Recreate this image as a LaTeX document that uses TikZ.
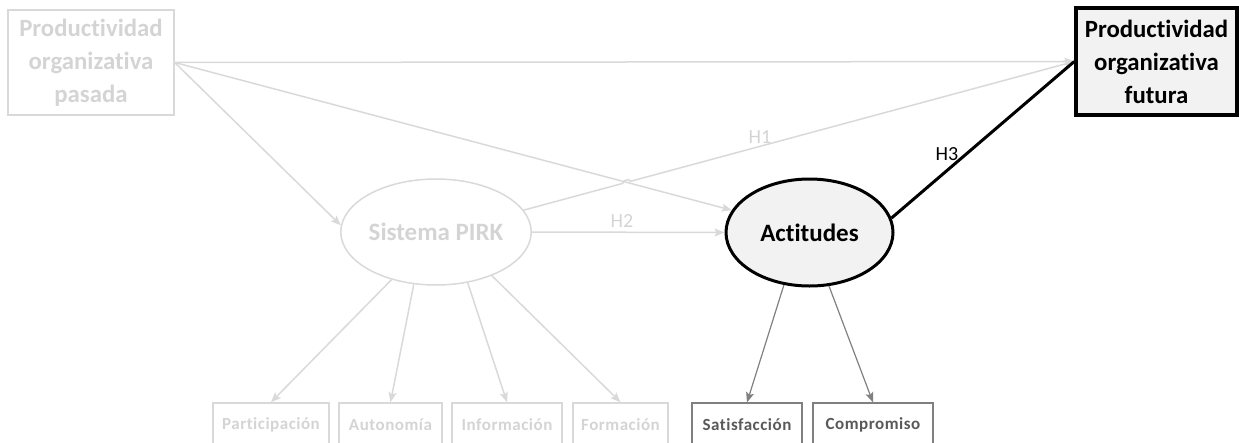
\documentclass[tikz,border=0pt]{standalone}
\usepackage{fontspec}
\setmainfont{Carlito}[RawFeature={-liga}]
\newfontfamily\trackedfont{Carlito}[LetterSpace=3,RawFeature={-liga}]
\usetikzlibrary{arrows.meta,shapes.geometric,intersections,calc}
\definecolor{faint}{HTML}{D9D9D9}
\definecolor{faintext}{HTML}{D4D4D4}
\definecolor{mid}{HTML}{808080}
\definecolor{midtext}{HTML}{595959}
\definecolor{fillgray}{HTML}{F2F2F2}
\begin{document}
\begin{tikzpicture}[x=1pt,y=-1pt,
  tip/.style={-{Stealth[length=10pt,width=8pt,inset=2pt]}},
  fline/.style={draw=faint,line width=1.5pt,tip},
  mline/.style={draw=mid,line width=1.2pt,tip},
  bigbox/.style={draw=faint,line width=1.5pt,inner sep=0pt,align=center,
    font=\fontsize{24.8}{33}\selectfont\bfseries,text=faintext},
  mainbox/.style={draw=black,line width=3.5pt,fill=fillgray,inner sep=0pt,align=center,
    font=\fontsize{24.8}{33}\selectfont\bfseries},
  fellipse/.style={ellipse,draw=faint,line width=1.5pt,inner sep=0pt,
    font=\fontsize{25}{28}\selectfont\bfseries,text=faintext},
  mellipse/.style={ellipse,draw=black,line width=3pt,fill=fillgray,inner sep=0pt,
    font=\fontsize{25}{28}\selectfont\bfseries},
  fitem/.style={draw=faint,line width=1.5pt,inner sep=0pt,minimum height=44pt,
    font=\trackedfont\fontsize{17}{20}\selectfont\bfseries,text=faintext},
  mitem/.style={draw=mid,line width=1.2pt,inner sep=0pt,minimum height=44pt,
    font=\trackedfont\fontsize{17}{20}\selectfont\bfseries,text=midtext},
  hlabel/.style={font=\fontsize{20}{24}\selectfont,inner sep=0pt}
]
\useasboundingbox (0,0) rectangle (1239,442);

% constructs
\node[bigbox,minimum width=166pt,minimum height=105pt] (past) at (91,62.5)
  {Productividad\\organizativa\\pasada};
\node[mainbox,minimum width=161pt,minimum height=107pt] (future) at (1156.5,61.5)
  {Productividad\\organizativa\\futura};
\node[fellipse,minimum width=166pt,minimum height=106pt] (pirk) at (436,232) {Sistema PIRK};
\node[mellipse,minimum width=167pt,minimum height=107pt] (act) at (809.5,232.5) {Actitudes};

% indicators
\node[fitem,minimum width=116pt] (part) at (271,425) {Participación};
\node[fitem,minimum width=103pt] (auto) at (390.5,425) {Autonomía};
\node[fitem,minimum width=110pt] (info) at (507,425) {Información};
\node[fitem,minimum width=95pt]  (form) at (620.5,425) {Formación};
\node[mitem,minimum width=110pt] (sat)  at (747,425) {Satisfacción};
\node[mitem,minimum width=120pt] (comp) at (873,425) {Compromiso};

% control paths from past productivity
\draw[fline] (past.east) -- (future.west);
\draw[fline] (past.east) -- (pirk.176);
\path[name path=pastact] (past.east) -- (act.164);
\draw[fline] (past.east) -- (act.164);

% H1 with a line hop where it crosses the control path
\path[name path=pirkfut] (pirk.14) -- (future.west);
\path[name intersections={of=pastact and pirkfut,by=X}];
\draw[fline] (pirk.14) -- ($(X)!4pt!(pirk.14)$) to[bend left=90] ($(X)!4pt!(future.west)$) -- (future.west);

% H2 and H3
\draw[fline] (pirk.east) -- (act.west);
\draw[black,line width=3pt] (act.10) -- (future.west);

\node[hlabel,text=faintext] (h1) at (760,137) {H1};
\node[hlabel,text=faintext] (h2) at (622,221) {H2};
\node[hlabel] (h3) at (947,154) {H3};

% measurement arrows
\draw[fline] (pirk.227) -- (part.north);
\draw[fline] (pirk.247) -- (auto.north);
\draw[fline] (pirk.302) -- (info.north);
\draw[fline] (pirk.322) -- (form.north);
\draw[mline] (act.244) -- (sat.north);
\draw[mline] (act.290) -- (comp.north);
\end{tikzpicture}
\end{document}
